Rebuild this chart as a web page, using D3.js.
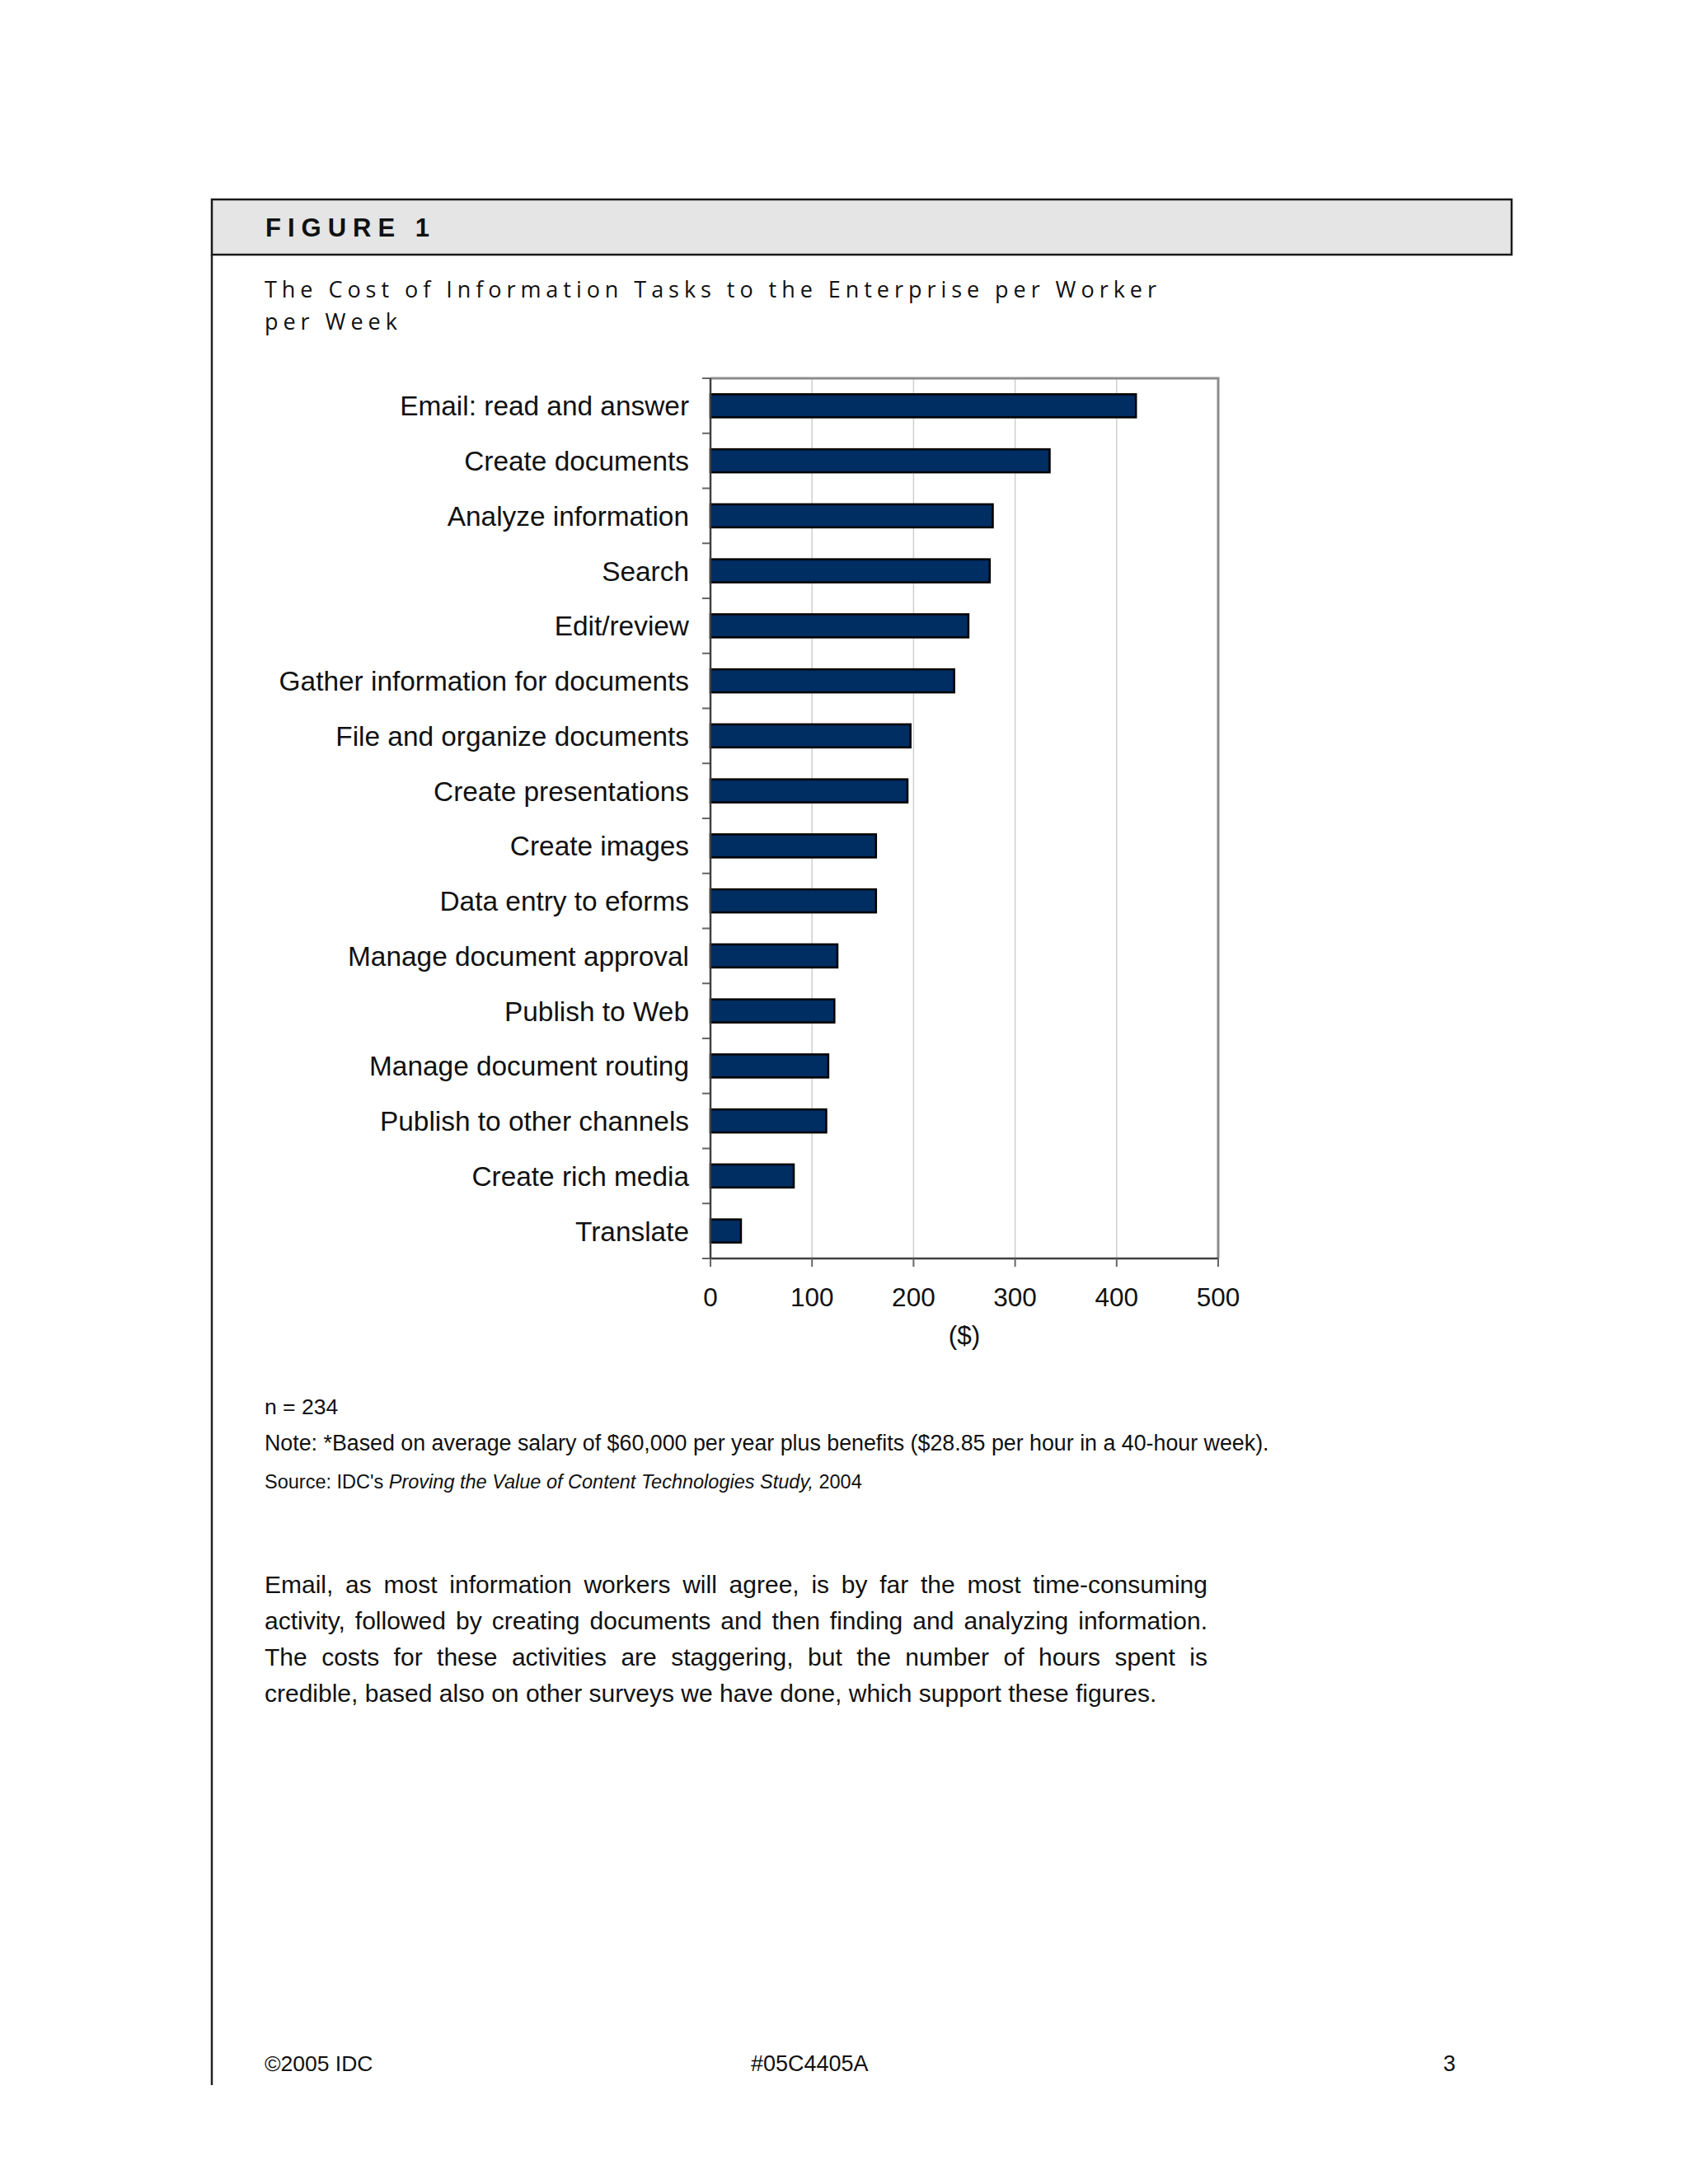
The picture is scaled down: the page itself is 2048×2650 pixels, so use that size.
<!DOCTYPE html>
<html><head><meta charset="utf-8">
<script src="https://cdn.jsdelivr.net/npm/d3@7"></script>
<style>body{margin:0;background:#fff} svg{display:block}</style>
</head><body>
<script>
// ---- data ----
const categories = [
  "Email: read and answer", "Create documents", "Analyze information", "Search",
  "Edit/review", "Gather information for documents", "File and organize documents",
  "Create presentations", "Create images", "Data entry to eforms",
  "Manage document approval", "Publish to Web", "Manage document routing",
  "Publish to other channels", "Create rich media", "Translate"
];
const values = [419, 334, 278, 275, 254, 240, 197, 194, 163, 163, 125, 122, 116, 114, 82, 30];
const xTicks = [0, 100, 200, 300, 400, 500];
const xAxisTitle = "($)";
const figureLabel = "FIGURE 1";
const titleLines = ["The Cost of Information Tasks to the Enterprise per Worker", "per Week"];
const nNote = "n = 234";
const noteText = "Note: *Based on average salary of $60,000 per year plus benefits ($28.85 per hour in a 40-hour week).";
const sourceParts = [["Source: IDC's ", false], ["Proving the Value of Content Technologies Study,", true], [" 2004", false]];
const paragraph = [
  "Email, as most information workers will agree, is by far the most time-consuming",
  "activity, followed by creating documents and then finding and analyzing information.",
  "The costs for these activities are staggering, but the number of hours spent is",
  "credible, based also on other surveys we have done, which support these figures."
];
const footer = ["©2005 IDC", "#05C4405A", "3"];

// ---- drawing ----
const W = 2048, H = 2650;
const svg = d3.select("body").append("svg").attr("width", W).attr("height", H);
svg.append("rect").attr("width", W).attr("height", H).attr("fill", "#fff");
const sans = "'Liberation Sans', Arial, sans-serif";

// header box
svg.append("rect").attr("x", 257).attr("y", 242).attr("width", 1577).attr("height", 67)
  .attr("fill", "#e5e5e5").attr("stroke", "#1a1a1a").attr("stroke-width", 2.5);
svg.append("line").attr("x1", 257).attr("x2", 257).attr("y1", 309).attr("y2", 2530)
  .attr("stroke", "#222").attr("stroke-width", 2.5);
svg.append("text").attr("x", 322).attr("y", 287).text(figureLabel)
  .attr("font-family", sans).attr("font-weight", "bold").attr("font-size", 31)
  .attr("letter-spacing", 8).attr("fill", "#111");

// title (letter-spaced)
const t1 = svg.append("text").attr("x", 321).attr("y", 361).text(titleLines[0])
  .attr("font-family", "'Open Sans', sans-serif").attr("font-size", 27).attr("fill", "#111");
const nat = t1.node().getComputedTextLength();
const ls = (1082 - nat) / (titleLines[0].length - 1);
t1.attr("letter-spacing", ls);
svg.append("text").attr("x", 321).attr("y", 400).text(titleLines[1])
  .attr("font-family", "'Open Sans', sans-serif").attr("font-size", 27).attr("fill", "#111")
  .attr("letter-spacing", ls);

// chart
const L = 862, R = 1478, T = 459, B = 1527;
const x = d3.scaleLinear().domain([0, 500]).range([L, R]);
const y = d3.scaleBand().domain(categories).range([T, B]).paddingInner(0.58).paddingOuter(0.29);
const g = svg.append("g");

// gridlines
g.selectAll(".grid").data(xTicks.filter(d => d > 0 && d < 500)).join("line")
  .attr("x1", d => x(d)).attr("x2", d => x(d)).attr("y1", T).attr("y2", B)
  .attr("stroke", "#cfcfcf").attr("stroke-width", 1.5);
// frame top/right
g.append("path").attr("d", `M${L},${T}H${R}V${B}`).attr("fill", "none")
  .attr("stroke", "#8c8c8c").attr("stroke-width", 3);

// bars
g.selectAll(".bar").data(values).join("rect")
  .attr("x", x(0)).attr("y", (d, i) => y(categories[i]))
  .attr("width", d => x(d) - x(0)).attr("height", y.bandwidth())
  .attr("fill", "#002d62").attr("stroke", "#000").attr("stroke-width", 2.5);

// y axis
const step = y.step();
const yb = d3.range(categories.length + 1).map(i => T + i * step);
g.selectAll(".ytick").data(yb).join("line")
  .attr("x1", L - 10).attr("x2", L).attr("y1", d => d).attr("y2", d => d)
  .attr("stroke", "#666").attr("stroke-width", 2);
g.append("line").attr("x1", L).attr("x2", L).attr("y1", T).attr("y2", B)
  .attr("stroke", "#404040").attr("stroke-width", 2.5);
g.selectAll(".ylab").data(categories).join("text")
  .attr("x", L - 26).attr("y", d => y(d) + y.bandwidth() / 2).attr("dy", "0.36em")
  .attr("text-anchor", "end").attr("font-family", sans).attr("font-size", 33.4).attr("fill", "#111")
  .text(d => d);

// x axis
g.append("line").attr("x1", L).attr("x2", R).attr("y1", B).attr("y2", B)
  .attr("stroke", "#404040").attr("stroke-width", 2.5);
g.selectAll(".xtick").data(xTicks).join("line")
  .attr("x1", d => x(d)).attr("x2", d => x(d)).attr("y1", B).attr("y2", B + 10)
  .attr("stroke", "#666").attr("stroke-width", 2);
g.selectAll(".xlab").data(xTicks).join("text")
  .attr("x", d => x(d)).attr("y", 1585).attr("text-anchor", "middle")
  .attr("font-family", sans).attr("font-size", 31.5).attr("fill", "#111").text(d => d);
g.append("text").attr("x", (L + R) / 2).attr("y", 1631).attr("text-anchor", "middle")
  .attr("font-family", sans).attr("font-size", 31.5).attr("fill", "#111").text(xAxisTitle);

// notes
svg.append("text").attr("x", 321).attr("y", 1716).text(nNote)
  .attr("font-family", sans).attr("font-size", 26.5).attr("fill", "#111");
svg.append("text").attr("x", 321).attr("y", 1760).text(noteText)
  .attr("font-family", sans).attr("font-size", 26.8).attr("fill", "#111");
const src = svg.append("text").attr("x", 321).attr("y", 1806)
  .attr("font-family", sans).attr("font-size", 23.5).attr("fill", "#111");
src.selectAll("tspan").data(sourceParts).join("tspan")
  .attr("font-style", d => d[1] ? "italic" : "normal").text(d => d[0]);

// paragraph (justified)
const pw = 1144;
paragraph.forEach((line, i) => {
  const t = svg.append("text").attr("x", 321).attr("y", 1933 + i * 44).text(line)
    .attr("font-family", sans).attr("font-size", 30).attr("fill", "#111");
  if (i < paragraph.length - 1) {
    const w = t.node().getComputedTextLength();
    const spaces = (line.match(/ /g) || []).length;
    t.attr("word-spacing", (pw - w) / spaces);
  }
});

// footer
svg.append("text").attr("x", 321).attr("y", 2513).text(footer[0])
  .attr("font-family", sans).attr("font-size", 26.5).attr("fill", "#111");
svg.append("text").attr("x", 911).attr("y", 2513).text(footer[1])
  .attr("font-family", sans).attr("font-size", 27).attr("fill", "#111");
svg.append("text").attr("x", 1766).attr("y", 2513).attr("text-anchor", "end").text(footer[2])
  .attr("font-family", sans).attr("font-size", 27).attr("fill", "#111");
</script>
</body></html>
